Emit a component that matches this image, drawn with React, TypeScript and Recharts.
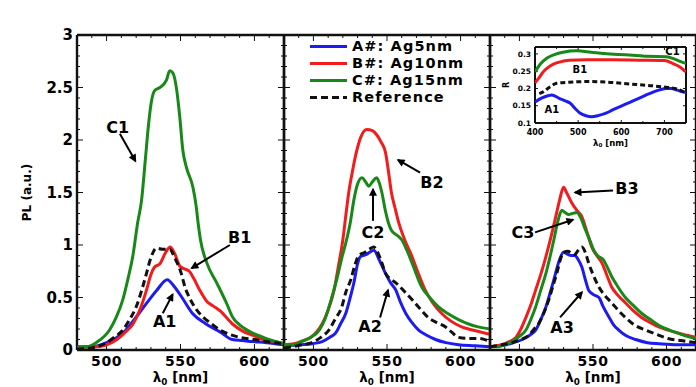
import { Legend, Line, LineChart, ReferenceDot, ReferenceLine, XAxis, YAxis } from 'recharts'

type Pt = [number, number]
type Note = { label: string; wl: number; pl: number }
type Arrow = { from: Pt; to: Pt }

const FONT = '"DejaVu Sans", Verdana, sans-serif'

const seriesNames = ['A#: Ag5nm', 'B#: Ag10nm', 'C#: Ag15nm', 'Reference']
const seriesColors = ['#1c1cf2', '#f21c1c', '#188818', '#111111']
const seriesDash = [undefined, undefined, undefined, '7 4']

// PL spectra, [wavelength nm, PL a.u.]
const noSinA: Pt[] = [
  [480, 0.03], [490, 0.03], [500, 0.07], [511, 0.16], [522, 0.35], [534, 0.57], [541, 0.67], [546, 0.6],
  [551, 0.5], [558, 0.35], [567, 0.25], [577, 0.17], [585, 0.1], [592, 0.09], [599, 0.08], [608, 0.07], [620, 0.05],
]
const noSinB: Pt[] = [
  [480, 0.02], [493, 0.03], [500, 0.05], [507, 0.1], [512, 0.16], [518, 0.25], [523, 0.4], [527, 0.57],
  [530, 0.72], [532.5, 0.79], [536, 0.82], [540, 0.93], [543, 0.98], [546, 0.92], [549.5, 0.8], [553, 0.77],
  [556, 0.75], [559, 0.68], [563, 0.57], [568, 0.46], [572, 0.42], [577, 0.37], [585, 0.25], [592, 0.18],
  [599, 0.14], [606, 0.1], [613, 0.08], [620, 0.06],
]
const noSinC: Pt[] = [
  [480, 0.02], [487, 0.03], [493, 0.07], [502, 0.19], [506.5, 0.31], [511, 0.48], [514.5, 0.68], [517.7, 0.89],
  [521, 1.21], [523.7, 1.43], [526.2, 1.81], [528.4, 2.15], [530.5, 2.38], [532.5, 2.47], [536, 2.5],
  [540.5, 2.57], [542.7, 2.66], [544.8, 2.64], [547.4, 2.48], [549.5, 2.22], [551.6, 1.9], [554, 1.74],
  [558.4, 1.55], [560.5, 1.38], [562, 1.2], [563.5, 1.05], [567.8, 0.83], [574.5, 0.64], [581, 0.45],
  [585.4, 0.31], [590, 0.24], [595, 0.19], [606, 0.12], [612, 0.09], [620, 0.06],
]
const noSinRef: Pt[] = [
  [480, 0.01], [490, 0.02], [500, 0.07], [505, 0.12], [511, 0.19], [516, 0.3], [520, 0.41], [524, 0.58],
  [527, 0.73], [530, 0.88], [533.7, 0.97], [538, 0.96], [542.7, 0.96], [546, 0.88], [550.5, 0.73], [553, 0.6],
  [556, 0.5], [560, 0.4], [565.5, 0.31], [571, 0.25], [576.6, 0.19], [583, 0.15], [590, 0.12], [600, 0.1],
  [608, 0.08], [620, 0.06],
]

const sin15A: Pt[] = [
  [480, 0.04], [492, 0.05], [499, 0.06], [506, 0.08], [511, 0.12], [515, 0.16], [518.5, 0.25], [522, 0.35],
  [525, 0.5], [527.5, 0.64], [530, 0.82], [532, 0.89], [536, 0.91], [541, 0.95], [545, 0.85], [549, 0.73],
  [552, 0.65], [556, 0.57], [559, 0.46], [562.7, 0.35], [567, 0.26], [571.5, 0.19], [577, 0.14], [583, 0.1],
  [590, 0.07], [598.6, 0.05], [610, 0.04], [620, 0.03],
]
const sin15B: Pt[] = [
  [480, 0.05], [487, 0.06], [493, 0.09], [498, 0.12], [502, 0.17], [506, 0.25], [510, 0.38], [514, 0.57],
  [517, 0.8], [520, 1.05], [522, 1.28], [524, 1.5], [526.5, 1.7], [528.8, 1.86], [532, 2.02], [536.3, 2.1],
  [540, 2.09], [543, 2.05], [546, 1.98], [549, 1.88], [551, 1.7], [553, 1.5], [555.5, 1.35], [558, 1.21],
  [562, 1.05], [567, 0.89], [571, 0.74], [576, 0.57], [581, 0.45], [587, 0.35], [593, 0.28], [600.7, 0.22],
  [608, 0.19], [620, 0.15],
]
const sin15C: Pt[] = [
  [480, 0.04], [487, 0.05], [492, 0.08], [498, 0.12], [504, 0.19], [508, 0.3], [512.5, 0.5], [516, 0.68],
  [519.5, 0.89], [522, 1.02], [525, 1.21], [527.5, 1.43], [530, 1.58], [533, 1.64], [535.5, 1.6], [537.6, 1.56],
  [540, 1.6], [543, 1.64], [545, 1.58], [546.5, 1.5], [549, 1.32], [551, 1.21], [553, 1.14], [555, 1.11],
  [558, 1.08], [560, 1.05], [563.5, 0.95], [567, 0.83], [573.6, 0.6], [579, 0.5], [585, 0.41], [591, 0.35],
  [598.6, 0.29], [605, 0.25], [612, 0.22], [620, 0.2],
]
const sin15Ref: Pt[] = [
  [480, 0.02], [485.6, 0.03], [492, 0.05], [499, 0.07], [505, 0.12], [510.5, 0.19], [515, 0.3], [519.3, 0.41],
  [522, 0.55], [525.4, 0.67], [528, 0.8], [530.8, 0.9], [535, 0.93], [538, 0.96], [541, 0.98], [544, 0.92],
  [546.5, 0.83], [549, 0.73], [552, 0.68], [556, 0.64], [561, 0.57], [567, 0.48], [572, 0.4], [578, 0.31],
  [584, 0.26], [589.8, 0.22], [594, 0.17], [598.6, 0.12], [605, 0.11], [612, 0.11], [620, 0.08],
]

const sin120A: Pt[] = [
  [480, 0.03], [486, 0.04], [491, 0.05], [496, 0.07], [502, 0.1], [507, 0.14], [511, 0.19], [514.5, 0.29],
  [518, 0.41], [521, 0.55], [524, 0.7], [527, 0.85], [530, 0.93], [533, 0.91], [535, 0.9], [537.6, 0.9],
  [540, 0.86], [542.4, 0.79], [545, 0.66], [547, 0.57], [550, 0.53], [554, 0.5], [557, 0.41], [561, 0.31],
  [564, 0.24], [567.5, 0.19], [572, 0.14], [579, 0.1], [587, 0.07], [595, 0.06], [607, 0.05], [620, 0.05],
]
const sin120B: Pt[] = [
  [480, 0.03], [488, 0.05], [493, 0.08], [497.6, 0.12], [501, 0.2], [504.4, 0.31], [508, 0.44], [511, 0.57],
  [514.5, 0.72], [518, 0.89], [521.5, 1.08], [524.7, 1.27], [527.5, 1.44], [530, 1.55], [532, 1.5],
  [535.6, 1.4], [539, 1.33], [542.4, 1.27], [546, 1.12], [549.2, 0.98], [552.5, 0.9], [556, 0.83],
  [559.5, 0.71], [562.7, 0.6], [567, 0.52], [572, 0.45], [577, 0.38], [583, 0.31], [589, 0.26], [594.6, 0.22],
  [601, 0.19], [608, 0.16], [614, 0.14], [620, 0.12],
]
const sin120C: Pt[] = [
  [480, 0.03], [485, 0.03], [490, 0.05], [495, 0.08], [500, 0.13], [504.4, 0.19], [508, 0.3], [511, 0.41],
  [514.5, 0.57], [518, 0.73], [521, 0.9], [523.4, 1.05], [526, 1.22], [528.8, 1.33], [531, 1.31],
  [533.5, 1.29], [536, 1.3], [539, 1.31], [542, 1.25], [545, 1.14], [548, 1.04], [550.5, 0.95], [553, 0.9],
  [557, 0.86], [560, 0.78], [562.7, 0.7], [567, 0.6], [572, 0.5], [577, 0.43], [583, 0.35], [590, 0.28],
  [596.6, 0.22], [602, 0.19], [608, 0.16], [614, 0.13], [620, 0.11],
]
const sin120Ref: Pt[] = [
  [480, 0.03], [488, 0.05], [495, 0.07], [501, 0.1], [506.4, 0.14], [510, 0.2], [513, 0.25], [516.5, 0.35],
  [520, 0.48], [523, 0.62], [525.4, 0.73], [528, 0.87], [530, 0.93], [533, 0.94], [535.5, 0.92], [537.6, 0.91],
  [540, 0.95], [542.4, 0.98], [545, 0.92], [547, 0.83], [550, 0.72], [554, 0.6], [558, 0.52], [562.7, 0.45],
  [567, 0.38], [572, 0.31], [578, 0.24], [585.8, 0.19], [593, 0.15], [601, 0.11], [610, 0.09], [620, 0.07],
]

// inset: reflectance R vs wavelength
const reflA: Pt[] = [
  [400, 0.161], [415, 0.172], [430, 0.179], [439, 0.181], [455, 0.172], [470, 0.164], [481, 0.158], [493, 0.142],
  [504, 0.129], [518, 0.121], [531, 0.118], [548, 0.122], [566, 0.129], [580, 0.138], [596, 0.147], [620, 0.16],
  [642, 0.172], [665, 0.185], [689, 0.196], [705, 0.2], [716, 0.2], [730, 0.195], [742, 0.19], [750, 0.188],
]
const reflB: Pt[] = [
  [400, 0.216], [410, 0.232], [419, 0.248], [435, 0.265], [450, 0.274], [465, 0.279], [480, 0.282], [520, 0.283],
  [580, 0.283], [640, 0.282], [700, 0.281], [720, 0.272], [735, 0.263], [750, 0.248],
]
const reflC: Pt[] = [
  [400, 0.248], [412, 0.27], [428, 0.288], [445, 0.298], [465, 0.305], [497, 0.309], [530, 0.305], [560, 0.301],
  [619, 0.297], [660, 0.293], [705, 0.292], [725, 0.284], [746, 0.274], [750, 0.273],
]
const reflRef: Pt[] = [
  [410, 0.185], [419, 0.19], [435, 0.205], [450, 0.215], [480, 0.218], [527, 0.22], [570, 0.218], [619, 0.213],
  [660, 0.209], [700, 0.204], [730, 0.198], [750, 0.187],
]

const wlTicks = [480, 490, 500, 510, 520, 530, 540, 550, 560, 570, 580, 590, 600, 610, 620]
const wlMajor = [500, 550, 600]
const plTicks = [
  0, 0.1, 0.2, 0.3, 0.4, 0.5, 0.6, 0.7, 0.8, 0.9, 1, 1.1, 1.2, 1.3, 1.4, 1.5, 1.6, 1.7, 1.8, 1.9, 2,
  2.1, 2.2, 2.3, 2.4, 2.5, 2.6, 2.7, 2.8, 2.9, 3,
]
const plMajor = [0, 0.5, 1, 1.5, 2, 2.5, 3]
const insetWlTicks = [400, 450, 500, 550, 600, 650, 700, 750]
const insetWlMajor = [400, 500, 600, 700]
const insetRTicks = [0.1, 0.15, 0.2, 0.25, 0.3]

const panelTitles = ['no SiN', '15nm SiN', '120nm SiN']

const noSinNotes: Note[] = [
  { label: 'C1', wl: 507.5, pl: 2.12 },
  { label: 'B1', wl: 590, pl: 1.07 },
  { label: 'A1', wl: 539.3, pl: 0.27 },
]
const noSinArrows: Arrow[] = [
  { from: [509, 2.06], to: [519.5, 1.8] },
  { from: [583.4, 1.0], to: [557.6, 0.78] },
  { from: [538, 0.35], to: [544.7, 0.53] },
]
const sin15Notes: Note[] = [
  { label: 'B2', wl: 580.6, pl: 1.6 },
  { label: 'C2', wl: 540.5, pl: 1.12 },
  { label: 'A2', wl: 538.5, pl: 0.22 },
]
const sin15Arrows: Arrow[] = [
  { from: [572.5, 1.69], to: [557.5, 1.81] },
  { from: [540.5, 1.23], to: [540.5, 1.53] },
  { from: [545.3, 0.31], to: [550.7, 0.57] },
]
const sin120Notes: Note[] = [
  { label: 'B3', wl: 573.1, pl: 1.54 },
  { label: 'C3', wl: 502.4, pl: 1.12 },
  { label: 'A3', wl: 529, pl: 0.21 },
]
const sin120Arrows: Arrow[] = [
  { from: [563.6, 1.52], to: [537.8, 1.5] },
  { from: [510.6, 1.12], to: [536.4, 1.24] },
  { from: [527.6, 0.31], to: [542.5, 0.55] },
]
const insetNotes: Note[] = [
  { label: 'C1', wl: 718.7, pl: 0.306 },
  { label: 'B1', wl: 504, pl: 0.254 },
  { label: 'A1', wl: 439, pl: 0.138 },
]

const toRows = (pts: Pt[]) => pts.map(([wl, pl]) => ({ wl, pl }))
const isIn = (list: number[], v: number) => list.some((m) => Math.abs(m - v) < 1e-6)

// tick label renderers (tick marks are drawn as reference segments inside the frame)
function bottomLabel(majors: number[], size: number, gap: number, spacing = 0) {
  return function Tick(props: any) {
    const v = Number(props.payload?.value)
    if (!isIn(majors, v)) return <g />
    return (
      <text x={props.x} y={props.y + gap} textAnchor="middle" fontSize={size} fontWeight="bold" fontFamily={FONT} letterSpacing={spacing} fill="#000">
        {v}
      </text>
    )
  }
}

function leftLabel(majors: number[], size: number, gap: number, show: boolean) {
  return function Tick(props: any) {
    const v = Number(props.payload?.value)
    if (!show || !isIn(majors, v)) return <g />
    return (
      <text x={props.x - gap} y={props.y + size * 0.36} textAnchor="end" fontSize={size} fontWeight="bold" fontFamily={FONT} fill="#000">
        {v}
      </text>
    )
  }
}

type Box = {
  x: [number, number]
  y: [number, number]
  xTicks: number[]
  xMajor: number[]
  yTicks: number[]
  yMajor: number[]
  pxX: number // pixels per x unit
  pxY: number // pixels per y unit
  major: number
  minor: number
  frame: number
}

function frameAndTicks(b: Box, key: string) {
  const out: any[] = []
  const line = { stroke: '#111', strokeWidth: 1, ifOverflow: 'visible' as const }
  const [x0, x1] = b.x
  const [y0, y1] = b.y
  b.xTicks.forEach((t) => {
    const len = (isIn(b.xMajor, t) ? b.major : b.minor) / b.pxY
    out.push(<ReferenceLine key={`${key}b${t}`} segment={[{ x: t, y: y0 }, { x: t, y: y0 + len }]} {...line} />)
    out.push(<ReferenceLine key={`${key}t${t}`} segment={[{ x: t, y: y1 }, { x: t, y: y1 - len }]} {...line} />)
  })
  b.yTicks.forEach((t) => {
    const len = (isIn(b.yMajor, t) ? b.major : b.minor) / b.pxX
    out.push(<ReferenceLine key={`${key}l${t}`} segment={[{ x: x0, y: t }, { x: x0 + len, y: t }]} {...line} />)
    out.push(<ReferenceLine key={`${key}r${t}`} segment={[{ x: x1, y: t }, { x: x1 - len, y: t }]} {...line} />)
  })
  const edge = { stroke: '#111', strokeWidth: b.frame, ifOverflow: 'visible' as const }
  out.push(<ReferenceLine key={`${key}fx0`} x={x0} {...edge} />)
  out.push(<ReferenceLine key={`${key}fx1`} x={x1} {...edge} />)
  out.push(<ReferenceLine key={`${key}fy0`} y={y0} {...edge} />)
  out.push(<ReferenceLine key={`${key}fy1`} y={y1} {...edge} />)
  return out
}

function wlLabel(size: number, baseline: number) {
  return (p: any) => {
    const vb = p.viewBox
    return (
      <text x={vb.x + vb.width / 2} y={vb.y + baseline} textAnchor="middle" fontSize={size} fontWeight="bold" fontFamily={FONT} fill="#000">
        λ<tspan dy={size * 0.2} fontSize={size * 0.65}>0</tspan>
        <tspan dy={-size * 0.2}>{' [nm]'}</tspan>
      </text>
    )
  }
}

function titleLabel(title: string) {
  return (p: any) => {
    const vb = p.viewBox
    return (
      <text x={vb.x + vb.width / 2} y={vb.y - 12} textAnchor="middle" fontSize={16} fontWeight="bold" fontFamily={FONT} fill="#000">
        {title}
      </text>
    )
  }
}

function sideLabel(text: string, dx: number, size: number) {
  return (p: any) => {
    const vb = p.viewBox
    const cx = vb.x + dx
    const cy = vb.y + vb.height / 2
    return (
      <text x={cx} y={cy} transform={`rotate(-90 ${cx} ${cy})`} textAnchor="middle" dominantBaseline="central" fontSize={size} fontWeight="bold" fontFamily={FONT} fill="#000">
        {text}
      </text>
    )
  }
}

const arrowShape = (p: any) => (
  <line x1={p.x1} y1={p.y1} x2={p.x2} y2={p.y2} stroke="#000" strokeWidth={2} markerEnd="url(#arrowHead)" />
)

const noteShape = (label: string, size: number) => (p: any) => (
  <text x={p.cx} y={p.cy} textAnchor="middle" dominantBaseline="central" fontSize={size} fontWeight="bold" fontFamily={FONT} fill="#000">
    {label}
  </text>
)

function LegendBox(props: any) {
  const items = props.payload ?? []
  return (
    <div style={{ fontFamily: FONT, fontWeight: 'bold', fontSize: 14.5, lineHeight: '17px', letterSpacing: 1.1, color: '#000' }}>
      {items.map((it: any) => (
        <div key={it.value} style={{ display: 'flex', alignItems: 'center', height: 17, whiteSpace: 'nowrap' }}>
          <svg width={37} height={17}>
            <line x1={0} x2={37} y1={8.5} y2={8.5} stroke={it.color} strokeWidth={3} strokeDasharray={it.payload?.strokeDasharray} />
          </svg>
          <span style={{ marginLeft: 5 }}>{it.value}</span>
        </div>
      ))}
    </div>
  )
}

type PanelProps = {
  left: number
  axisWidth: number
  plotWidth: number
  title: string
  series: Pt[][]
  notes: Note[]
  arrows: Arrow[]
  yLabels?: boolean
  legend?: boolean
}

function Panel({ left, axisWidth, plotWidth, title, series, notes, arrows, yLabels, legend }: PanelProps) {
  const box: Box = {
    x: [480, 620], y: [0, 3], xTicks: wlTicks, xMajor: wlMajor, yTicks: plTicks, yMajor: plMajor,
    pxX: plotWidth / 140, pxY: 315 / 3, major: 6, minor: 3, frame: 2.4,
  }
  return (
    <div style={{ position: 'absolute', left, top: 0 }}>
      <LineChart width={axisWidth + plotWidth + 4} height={387} margin={{ top: 35, right: 2, bottom: 0, left: 2 }}>
        <XAxis
          dataKey="wl"
          type="number"
          domain={[480, 620]}
          allowDataOverflow
          ticks={wlTicks}
          interval={0}
          tickSize={0}
          tickMargin={0}
          tickLine={false}
          height={37}
          axisLine={false}
          tick={bottomLabel(wlMajor, 14, 15.5, 0.6)}
          label={wlLabel(13.5, 32)}
        />
        <XAxis
          xAxisId="top"
          orientation="top"
          type="number"
          domain={[480, 620]}
          allowDataOverflow
          ticks={wlMajor}
          tickLine={false}
          tick={false}
          height={0}
          axisLine={false}
          label={titleLabel(title)}
        />
        <YAxis
          type="number"
          domain={[0, 3]}
          allowDataOverflow
          ticks={plTicks}
          interval={0}
          tickSize={0}
          tickMargin={0}
          tickLine={false}
          width={axisWidth}
          axisLine={false}
          tick={leftLabel(plMajor, 15, 4, !!yLabels)}
          label={yLabels ? sideLabel('PL (a.u.)', 25, 12) : undefined}
        />
        {frameAndTicks(box, 'p')}
        {series.map((pts, i) => (
          <Line
            key={seriesNames[i]}
            data={toRows(pts)}
            dataKey="pl"
            name={seriesNames[i]}
            type="monotone"
            stroke={seriesColors[i]}
            strokeWidth={3}
            strokeDasharray={seriesDash[i]}
            dot={false}
            activeDot={false}
            isAnimationActive={false}
          />
        ))}
        {arrows.map((a, i) => (
          <ReferenceLine
            key={`arrow-${i}`}
            segment={[{ x: a.from[0], y: a.from[1] }, { x: a.to[0], y: a.to[1] }]}
            ifOverflow="visible"
            shape={arrowShape}
          />
        ))}
        {notes.map((n) => (
          <ReferenceDot key={n.label} x={n.wl} y={n.pl} r={0} ifOverflow="visible" shape={noteShape(n.label, 16)} />
        ))}
        {legend && (
          <Legend
            layout="vertical"
            align="center"
            verticalAlign="middle"
            content={LegendBox}
            wrapperStyle={{ left: 28, top: 38, width: 'auto', height: 'auto' }}
          />
        )}
      </LineChart>
    </div>
  )
}

function Inset() {
  const series = [reflA, reflB, reflC, reflRef]
  const box: Box = {
    x: [400, 750], y: [0.1, 0.32], xTicks: insetWlTicks, xMajor: insetWlMajor, yTicks: insetRTicks, yMajor: insetRTicks,
    pxX: 151 / 350, pxY: 76 / 0.22, major: 3, minor: 2, frame: 2,
  }
  return (
    <div style={{ position: 'absolute', left: 500, top: 46 }}>
      <LineChart width={187} height={104} margin={{ top: 1, right: 1, bottom: 0, left: 1 }}>
        <XAxis
          dataKey="wl"
          type="number"
          domain={[400, 750]}
          allowDataOverflow
          ticks={insetWlTicks}
          interval={0}
          tickSize={0}
          tickMargin={0}
          tickLine={false}
          height={27}
          axisLine={false}
          tick={bottomLabel(insetWlMajor, 8, 12)}
          label={wlLabel(8.5, 22.5)}
        />
        <YAxis
          type="number"
          domain={[0.1, 0.32]}
          allowDataOverflow
          ticks={insetRTicks}
          interval={0}
          tickSize={0}
          tickMargin={0}
          tickLine={false}
          width={34}
          axisLine={false}
          tick={leftLabel(insetRTicks, 7.5, 4, true)}
          label={sideLabel('R', 5, 8)}
        />
        {frameAndTicks(box, 'i')}
        {series.map((pts, i) => (
          <Line
            key={seriesNames[i]}
            data={toRows(pts)}
            dataKey="pl"
            name={seriesNames[i]}
            type="monotone"
            stroke={seriesColors[i]}
            strokeWidth={3}
            strokeDasharray={i === 3 ? '5 3' : undefined}
            dot={false}
            activeDot={false}
            isAnimationActive={false}
          />
        ))}
        {insetNotes.map((n) => (
          <ReferenceDot key={n.label} x={n.wl} y={n.pl} r={0} ifOverflow="visible" shape={noteShape(n.label, 10)} />
        ))}
      </LineChart>
    </div>
  )
}

export default function App() {
  return (
    <div style={{ position: 'absolute', left: 0, top: 0, width: 696, height: 387, overflow: 'hidden', background: '#fff' }}>
      <svg width={0} height={0} style={{ position: 'absolute' }}>
        <defs>
          <marker id="arrowHead" viewBox="0 0 10 10" refX="8" refY="5" markerWidth="4.5" markerHeight="4" orient="auto">
            <path d="M0,0 L10,5 L0,10 z" fill="#000" />
          </marker>
        </defs>
      </svg>
      <Panel left={0} axisWidth={75} plotWidth={207} title={panelTitles[0]}
        series={[noSinA, noSinB, noSinC, noSinRef]} notes={noSinNotes} arrows={noSinArrows} yLabels />
      <Panel left={282} axisWidth={0} plotWidth={206} title={panelTitles[1]}
        series={[sin15A, sin15B, sin15C, sin15Ref]} notes={sin15Notes} arrows={sin15Arrows} legend />
      <Panel left={488} axisWidth={0} plotWidth={206} title={panelTitles[2]}
        series={[sin120A, sin120B, sin120C, sin120Ref]} notes={sin120Notes} arrows={sin120Arrows} />
      <Inset />
    </div>
  )
}
